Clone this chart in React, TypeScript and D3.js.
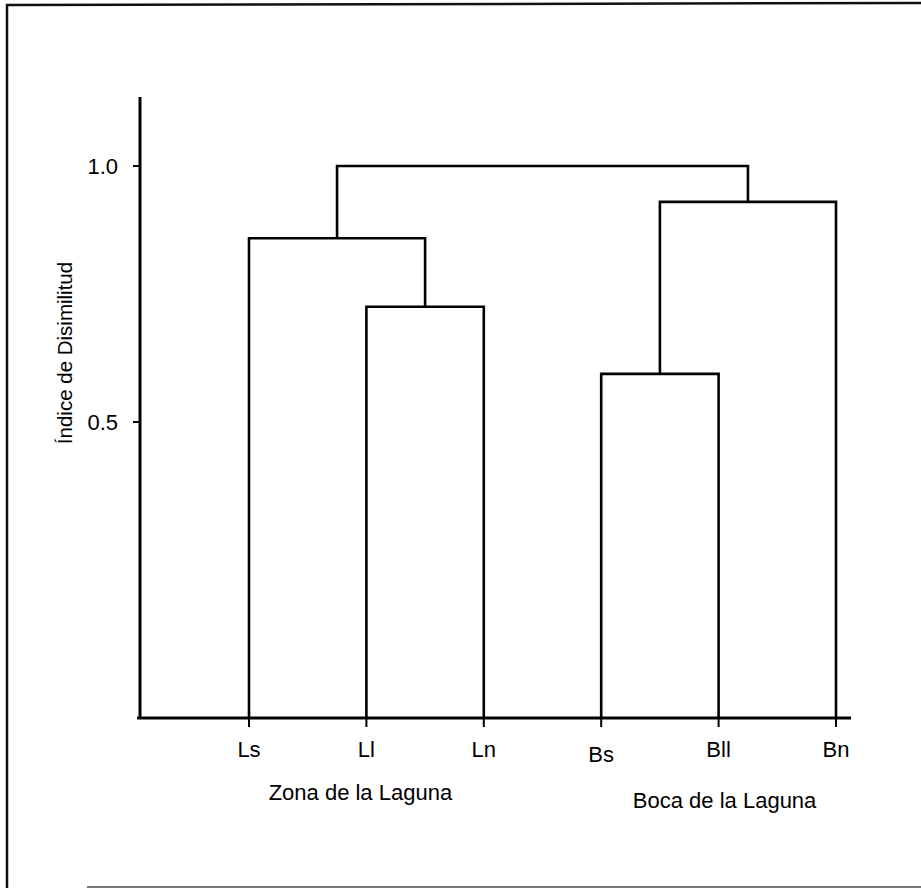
import * as d3 from "d3";

// leaves in dendrogram order
const leaves = ["Ls", "Ll", "Ln", "Bs", "Bll", "Bn"];
const leafLabels = ["Ls", "Ll", "Ln", "Bs", "Bll", "Bn"];
// merges: [left, right, dissimilarity]
const merges: [string, string, number][] = [
  ["Ll", "Ln", 0.725],
  ["Bs", "Bll", 0.594],
  ["Ls", "Ll+Ln", 0.859],
  ["Bs+Bll", "Bn", 0.93],
  ["Ls+Ll+Ln", "Bs+Bll+Bn", 1.0],
];
const yTicks = [0.5, 1.0];
const groupLabels = ["Zona de la Laguna", "Boca de la Laguna"];
const groupCenters = ["Ll", "Bll"];

const W = 921;
const H = 888;
const AXIS_X = 140;
const AXIS_TOP = 97;
const BASE_Y = 718;
const FONT = "'Liberation Sans', Arial, sans-serif";

export default function App() {
  const x = d3.scalePoint<string>().domain(leaves).range([249, 836]);
  const y = d3.scaleLinear().domain([0, 1]).range([678, 166]);

  // node positions
  const pos = new Map<string, { x: number; y: number }>();
  leaves.forEach((l) => pos.set(l, { x: x(l)!, y: BASE_Y }));
  const links: string[] = [];
  merges.forEach(([a, b, h]) => {
    const pa = pos.get(a)!;
    const pb = pos.get(b)!;
    const hy = y(h);
    links.push(`M${pa.x},${pa.y}V${hy}H${pb.x}V${pb.y}`);
    pos.set(`${a}+${b}`, { x: (pa.x + pb.x) / 2, y: hy });
  });

  return (
    <svg
      width={W}
      height={H}
      style={{ position: "absolute", left: 0, top: 0, display: "block", background: "#fff" }}
    >
      {/* scanned frame */}
      <path d={`M${W},3L7,5V${H}`} fill="none" stroke="#111" strokeWidth={2.5} />
      <line x1={87} x2={W} y1={887} y2={887} stroke="#777" strokeWidth={2} />

      {/* axes */}
      <line x1={AXIS_X} x2={AXIS_X} y1={AXIS_TOP} y2={BASE_Y + 1} stroke="#000" strokeWidth={3} />
      <line x1={AXIS_X - 3} x2={851} y1={BASE_Y} y2={BASE_Y} stroke="#000" strokeWidth={3} />
      {yTicks.map((t) => (
        <g key={t}>
          <line x1={AXIS_X - 7} x2={AXIS_X} y1={y(t)} y2={y(t)} stroke="#000" strokeWidth={2} />
          <text
            x={AXIS_X - 22}
            y={y(t)}
            dy="0.36em"
            textAnchor="end"
            fontFamily={FONT}
            fontSize={22}
            fill="#000"
          >
            {t.toFixed(1)}
          </text>
        </g>
      ))}
      {leaves.map((l, i) => (
        <g key={l}>
          <line x1={x(l)} x2={x(l)} y1={BASE_Y} y2={BASE_Y + 9} stroke="#000" strokeWidth={2} />
          <text
            x={x(l)}
            y={l === "Bs" ? 762 : 757}
            textAnchor="middle"
            fontFamily={FONT}
            fontSize={22}
            fill="#000"
          >
            {leafLabels[i]}
          </text>
        </g>
      ))}

      {/* dendrogram */}
      {links.map((d, i) => (
        <path key={i} d={d} fill="none" stroke="#000" strokeWidth={2.6} />
      ))}

      {/* titles */}
      {groupLabels.map((g, i) => (
        <text
          key={g}
          x={x(groupCenters[i])! + (i === 0 ? -6 : 6)}
          y={i === 0 ? 800 : 808}
          textAnchor="middle"
          fontFamily={FONT}
          fontSize={22}
          fill="#000"
        >
          {g}
        </text>
      ))}
      <text
        transform={`translate(72,${353}) rotate(-90)`}
        textAnchor="middle"
        fontFamily={FONT}
        fontSize={20.5}
        fill="#000"
      >
        Índice de Disimilitud
      </text>
    </svg>
  );
}
